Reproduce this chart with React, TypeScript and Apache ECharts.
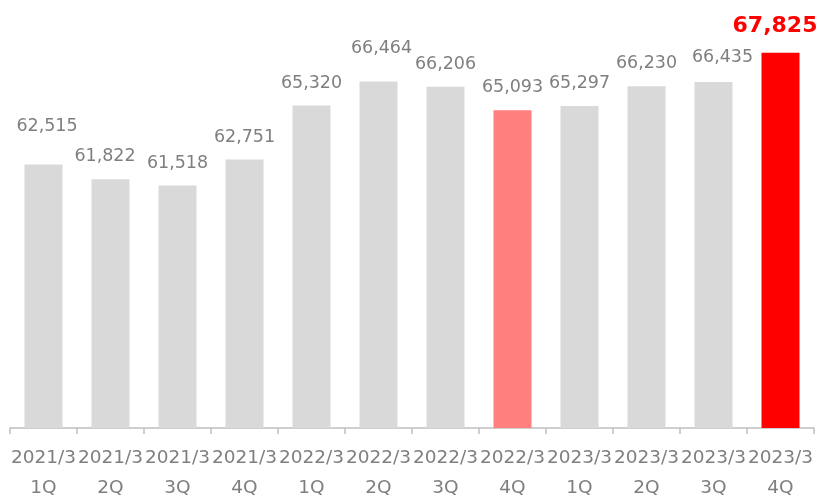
import React, { useEffect, useRef } from "react";
import * as echarts from "echarts";

const periods = ["2021/3", "2021/3", "2021/3", "2021/3", "2022/3", "2022/3", "2022/3", "2022/3", "2023/3", "2023/3", "2023/3", "2023/3"];
const quarters = ["1Q", "2Q", "3Q", "4Q", "1Q", "2Q", "3Q", "4Q", "1Q", "2Q", "3Q", "4Q"];
const values = [62515, 61822, 61518, 62751, 65320, 66464, 66206, 65093, 65297, 66230, 66435, 67825];
const barColors = ["#d9d9d9", "#d9d9d9", "#d9d9d9", "#d9d9d9", "#d9d9d9", "#d9d9d9", "#d9d9d9", "#ff7f7f", "#d9d9d9", "#d9d9d9", "#d9d9d9", "#ff0000"];
const labelOffsets: number[][] = [[3.5, -16], [-5.5, 0], [0, 0], [0, 0], [0, 0], [3, -10], [0, 0], [0, 0], [0, 0], [0, 0], [9, -2], [-5.5, -2]];

export default function App() {
  const ref = useRef<HTMLDivElement>(null);
  useEffect(() => {
    if (!ref.current) return;
    const chart = echarts.init(ref.current, undefined, { renderer: "svg" });
    const font = "DejaVu Sans";
    const last = values.length - 1;
    chart.setOption({
      animation: false,
      grid: { left: 10, right: 9, top: 7, bottom: 69, containLabel: false },
      xAxis: {
        type: "category",
        data: periods.map((p, i) => p + "\n" + quarters[i]),
        axisLine: { show: true, lineStyle: { color: "#bfbfbf", width: 1.5 } },
        axisTick: { show: true, length: 6, lineStyle: { color: "#bfbfbf", width: 1.5 } },
        axisLabel: {
          interval: 0,
          margin: 13,
          color: "#7f7f7f",
          fontFamily: font,
          fontSize: 18.5,
          lineHeight: 30,
          hideOverlap: false,
        },
      },
      yAxis: {
        type: "value",
        min: 50000,
        max: 70000,
        show: false,
        splitLine: { show: false },
      },
      series: [
        {
          type: "bar",
          barWidth: 38,
          data: values.map((v, i) => ({
            value: v,
            itemStyle: { color: barColors[i] },
            label: {
              show: true,
              position: "top",
              distance: 15,
              offset: labelOffsets[i],
              formatter: (p: any) => Number(p.value).toLocaleString("en-US"),
              color: i === last ? "#ff0000" : "#7f7f7f",
              fontWeight: i === last ? "bold" : "normal",
              fontSize: i === last ? 22 : 17.5,
              fontFamily: font,
            },
          })),
        },
      ],
    });
    return () => chart.dispose();
  }, []);
  return <div ref={ref} style={{ position: "fixed", left: 0, top: 0, width: 823, height: 501 }} />;
}
